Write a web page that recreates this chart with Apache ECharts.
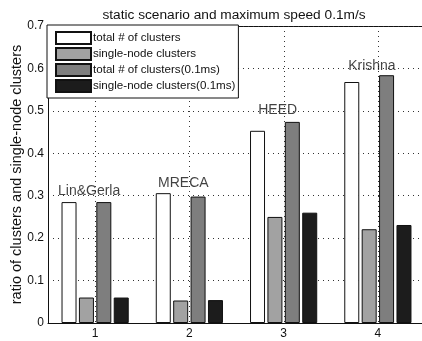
<!DOCTYPE html>
<html>
<head>
<meta charset="utf-8">
<script src="https://cdn.jsdelivr.net/npm/echarts@6/dist/echarts.min.js"></script>
<style>
  html, body { margin: 0; padding: 0; background: #fff; }
  #chart { width: 422px; height: 341px; }
</style>
</head>
<body>
<div id="chart"></div>
<script>
// Cluster ratios for four clustering algorithms, static scenario vs. 0.1 m/s mobility
const categories = ['1', '2', '3', '4'];
const algorithms = ['Lin&Gerla', 'MRECA', 'HEED', 'Krishna'];
const algorithmLabelHeights = [0.284, 0.303, 0.475, 0.579];
const seriesNames = [
  'total # of clusters',
  'single-node clusters',
  'total # of clusters(0.1ms)',
  'single-node clusters(0.1ms)'
];
const totalClusters = [0.285, 0.306, 0.453, 0.568];
const singleNodeClusters = [0.060, 0.053, 0.250, 0.221];
const totalClustersMobile = [0.285, 0.298, 0.474, 0.584];
const singleNodeClustersMobile = [0.060, 0.054, 0.260, 0.231];
const yTicks = [0, 0.1, 0.2, 0.3, 0.4, 0.5, 0.6, 0.7];

const fills = ['#ffffff', '#a2a2a2', '#7e7e7e', '#1c1c1c'];
const values = [totalClusters, singleNodeClusters, totalClustersMobile, singleNodeClustersMobile];
const font = 'Liberation Sans, Arial, sans-serif';

const chart = echarts.init(document.getElementById('chart'), null, { renderer: 'canvas' });

const barSeries = seriesNames.map((name, i) => ({
  name: name,
  type: 'bar',
  data: values[i],
  barWidth: 15,
  barGap: '16%',
  itemStyle: { color: fills[i], borderColor: '#111', borderWidth: 1 },
  silent: true,
  animation: false
}));

const option = {
  animation: false,
  title: {
    text: 'static scenario and maximum speed 0.1m/s',
    left: 229,
    top: 3,
    textAlign: 'center',
    textStyle: { fontFamily: font, fontSize: 13.7, fontWeight: 'normal', color: '#111' }
  },
  grid: { left: 48, right: -3, top: 26, bottom: 18, outerBoundsMode: 'none', containLabel: false },
  legend: {
    orient: 'vertical',
    left: 47,
    top: 25,
    data: seriesNames.map(n => ({ name: n, icon: 'rect' })),
    itemWidth: 35,
    itemHeight: 12,
    itemGap: 2,
    padding: [6, 3, 5, 8],
    borderColor: '#111',
    borderWidth: 1,
    backgroundColor: '#fff',
    textStyle: { fontFamily: font, fontSize: 11.6, lineHeight: 12, color: '#111', padding: [0, 0, 0, -3] },
    selectedMode: false
  },
  xAxis: {
    type: 'category',
    data: categories,
    boundaryGap: true,
    axisLine: { lineStyle: { color: '#111', width: 1 } },
    axisTick: { show: false },
    axisLabel: { fontFamily: font, fontSize: 12, color: '#111', margin: 5 },
    splitLine: { show: false }
  },
  yAxis: {
    type: 'value',
    min: 0,
    max: 0.7,
    interval: 0.1,
    name: 'ratio of clusters and single-node clusters',
    nameLocation: 'middle',
    nameGap: 24,
    nameMoveOverlap: false,
    nameTextStyle: { fontFamily: font, fontSize: 14.5, color: '#111' },
    axisLine: { show: true, lineStyle: { color: '#111', width: 1 } },
    axisTick: { show: false },
    axisLabel: {
      fontFamily: font, fontSize: 12, color: '#111', margin: 4,
      formatter: v => {
        const t = yTicks.find(k => Math.abs(k - v) < 1e-9);
        return t === 0 ? '0' : String(+t.toFixed(1));
      }
    },
    splitLine: { show: true, lineStyle: { color: '#333', type: [1, 4], width: 1 } }
  },
  series: barSeries.concat([{
    // algorithm names written above each group
    type: 'scatter',
    data: algorithmLabelHeights.map((v, i) => [categories[i], v]),
    symbolSize: 0,
    silent: true,
    label: {
      show: true,
      formatter: p => algorithms[p.dataIndex],
      position: 'top',
      distance: 4,
      offset: [-6, 0],
      fontFamily: font,
      fontSize: 14,
      color: '#111'
    }
  }]),
  graphic: []
};

chart.setOption(option);

// vertical dotted guides at each category and a top frame line
const gridRect = chart.getModel().getComponent('grid').coordinateSystem.getRect();
const guides = categories.map(c => {
  const x = Math.round(chart.convertToPixel({ xAxisIndex: 0 }, c)) + 0.5;
  return {
    type: 'line', z: -1, silent: true,
    shape: { x1: x, y1: gridRect.y, x2: x, y2: gridRect.y + gridRect.height },
    style: { stroke: '#333', lineWidth: 1, lineDash: [1, 4] }
  };
});
guides.push({
  type: 'line', silent: true,
  shape: { x1: gridRect.x, y1: gridRect.y + 0.5, x2: gridRect.x + gridRect.width, y2: gridRect.y + 0.5 },
  style: { stroke: '#111', lineWidth: 1 }
});
chart.setOption({ graphic: guides });
</script>
</body>
</html>
